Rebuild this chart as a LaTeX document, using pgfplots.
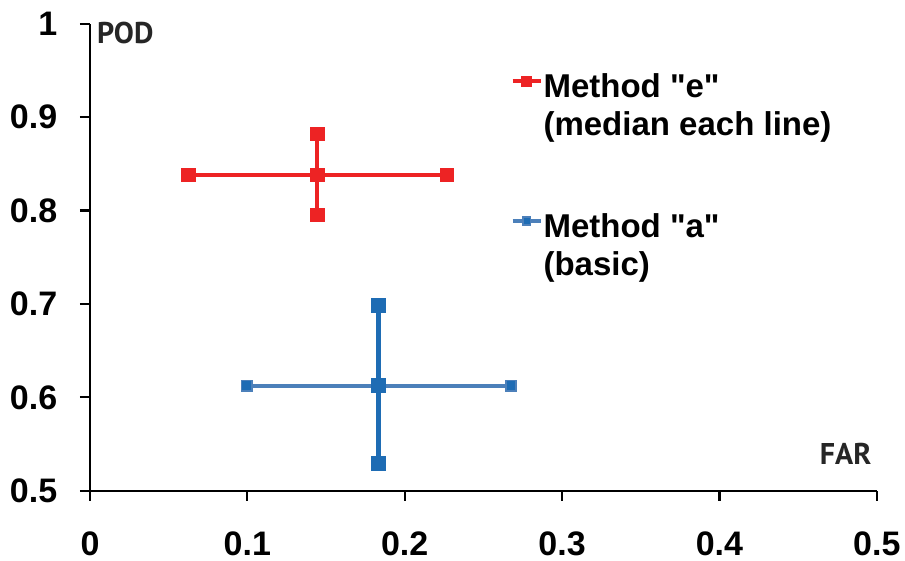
\documentclass[border=0pt]{standalone}
\usepackage{pgfplots}
\pgfplotsset{compat=1.18}
\usepackage{fontspec}
\setmainfont{Liberation Sans}[Ligatures=TeXOff]
\newfontfamily\labfont{PT Sans}
\definecolor{podred}{RGB}{237,35,36}
\definecolor{podblue}{RGB}{30,108,180}
\definecolor{podblueh}{RGB}{76,128,186}

\begin{document}
\begin{tikzpicture}
\begin{axis}[
  scale only axis,
  width=393.4pt, height=233.5pt,
  xmin=0, xmax=0.5, ymin=0.5, ymax=1,
  axis lines=left,
  axis line style={-, line width=1.1pt},
  tick align=outside,
  major tick length=5pt,
  tick style={black, line width=1.1pt},
  xtick={0,0.1,0.2,0.3,0.4,0.5},
  ytick={0.5,0.6,0.7,0.8,0.9,1},
  /pgf/number format/assume math mode=true,
  /pgf/number format/fixed,
  /pgf/number format/precision=1,
  tick label style={font=\bfseries\fontsize{17}{20}\selectfont, inner sep=0pt},
  xticklabel style={yshift=-15.3pt},
  yticklabel style={xshift=-11.2pt},
  clip=false,
  legend style={at={(0.534,0.903)}, anchor=north west, draw=none, fill=none,
    inner sep=0pt, row sep=0pt, column sep=0.5pt,
    font=\bfseries\fontsize{16.5}{19}\selectfont,
    nodes={inner sep=0pt, text height=14pt, text depth=5pt, anchor=base west}},
  legend cell align=left,
  legend image code/.code={\draw[mark repeat=2,mark phase=2,#1,mark size=1.9pt]
    plot coordinates {(0pt,8pt) (7pt,8pt) (14pt,8pt)};},
]
% FAR / POD, method "e"
\addplot[podred, line width=2pt, mark=square*, mark size=2.6pt]
  coordinates {(0.0625,0.838) (0.1445,0.838) (0.2268,0.838)};
\addlegendentry{Method "e"}
\addplot[podred, line width=2pt, mark=square*, mark size=2.6pt, forget plot]
  coordinates {(0.1445,0.7952) (0.1445,0.838) (0.1445,0.8816)};
\addlegendimage{empty legend}
\addlegendentry{(median each line)}
\addlegendimage{empty legend}
\addlegendentry[text height=26.85pt]{}
% method "a"
\addplot[podblueh, line width=2pt, mark=square*, mark size=2.6pt,
  mark options={fill=podblue, draw=podblueh, line width=0.8pt}]
  coordinates {(0.0996,0.6124) (0.1835,0.6124) (0.2676,0.6124)};
\addlegendentry{Method "a"}
\addplot[podblue, line width=2.3pt, mark=square*, mark size=2.6pt, forget plot]
  coordinates {(0.1835,0.5286) (0.1835,0.6124) (0.1835,0.698)};
\addlegendimage{empty legend}
\addlegendentry{(basic)}

\coordinate (O) at (rel axis cs:0,0);
\node[anchor=north west, inner sep=0pt, xshift=3.35pt, yshift=1pt,
  font=\labfont\bfseries\fontsize{15}{18}\selectfont, text=black!85]
  at (rel axis cs:0,1) {POD};
\node[anchor=south east, inner sep=0pt, xshift=-2.5pt, yshift=12.85pt,
  font=\labfont\bfseries\fontsize{15}{18}\selectfont, text=black!85]
  at (rel axis cs:1,0) {FAR};
\end{axis}
\pgfresetboundingbox
\path[use as bounding box] ([xshift=-45pt,yshift=-35.15pt]O) rectangle ++(452.5pt,280.5pt);
\end{tikzpicture}
\end{document}
